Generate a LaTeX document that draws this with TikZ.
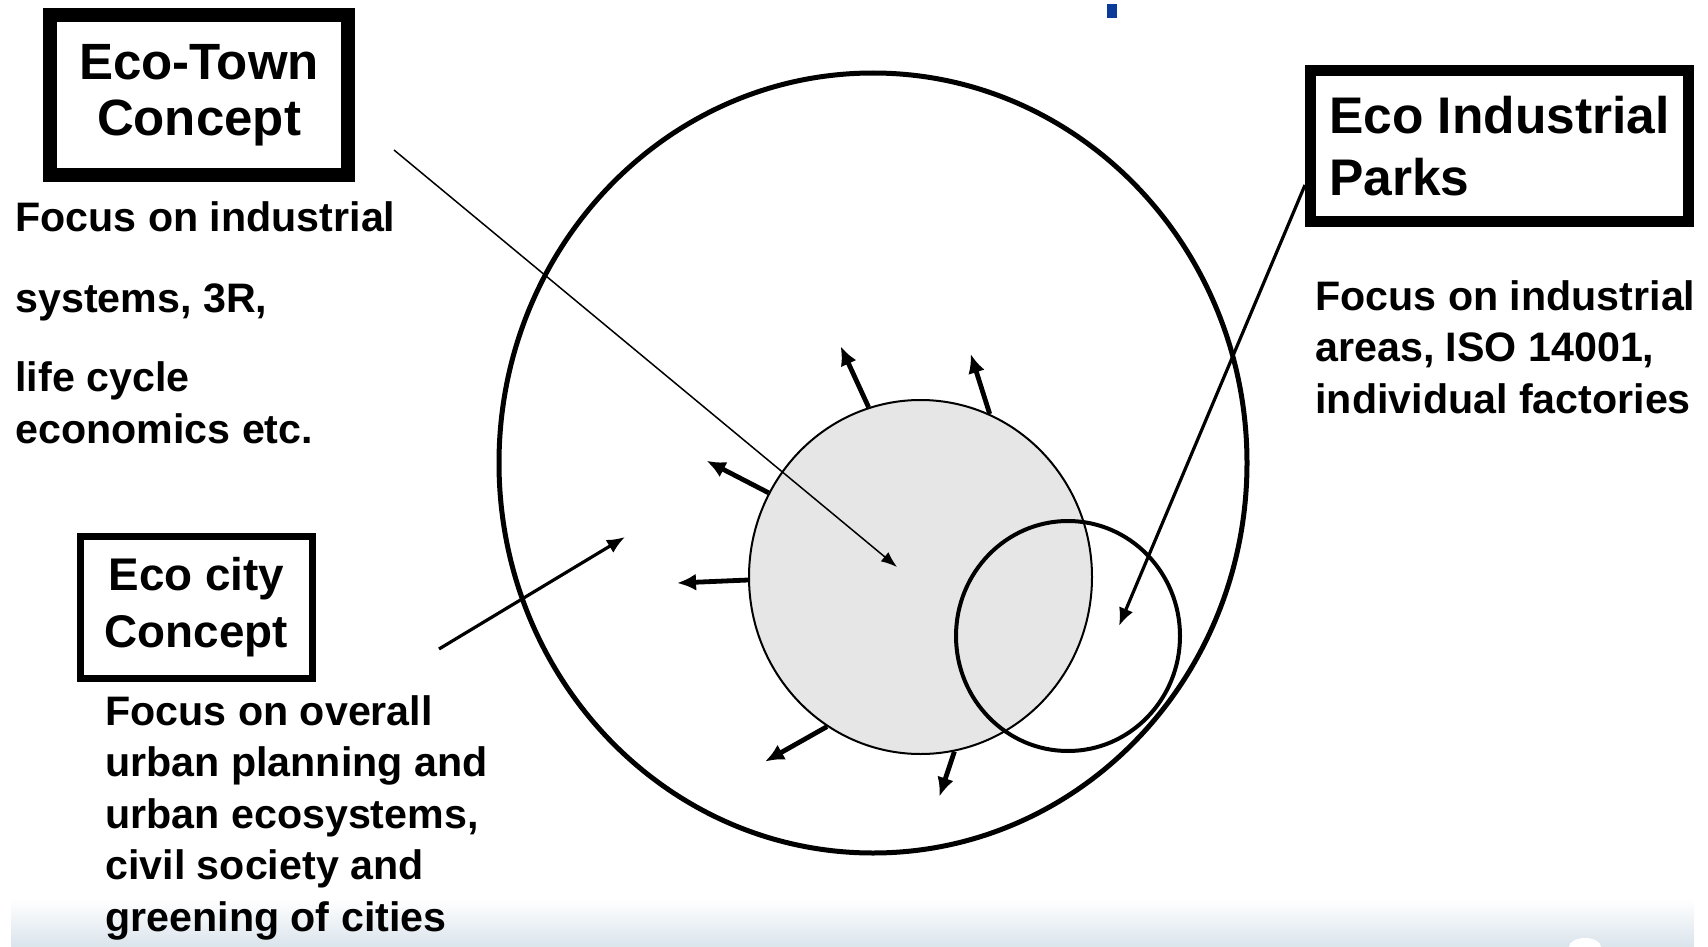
\documentclass[tikz,border=0pt]{standalone}
\usepackage{fontspec}
\setmainfont{Liberation Sans}
\usetikzlibrary{arrows.meta,positioning,shapes.geometric,calc}
\definecolor{ecInk}{HTML}{000000}
\definecolor{ecCore}{HTML}{E6E6E6}
\definecolor{ecMark}{HTML}{0A3A9A}
\definecolor{ecBand}{HTML}{DAE4EC}
\newcommand\ecTitle{\fontsize{25.5}{28}\selectfont\bfseries}
\newcommand\ecPark{\fontsize{25.75}{31}\selectfont\bfseries}
\newcommand\ecCity{\fontsize{22.9}{28.5}\selectfont\bfseries}
\newcommand\ecBody{\fontsize{20.6}{25.75}\selectfont\bfseries}
\tikzset{
  conbox/.style   ={draw=ecInk,fill=white,inner sep=0pt,align=center},
  txt/.style      ={inner sep=0pt,align=left,font=\ecBody,text=ecInk},
  ring/.style     ={ellipse,draw=ecInk,inner sep=0pt},
  spoke/.style    ={-{Latex[length=9.5pt,width=8.5pt]},ecInk,line width=2.4pt},
  pointer/.style  ={-{Latex[length=9pt,width=7.5pt]},ecInk,line width=1.6pt},
  thinptr/.style  ={-{Latex[length=8pt,width=6pt]},ecInk,line width=0.75pt},
}

\begin{document}
\begin{tikzpicture}[x=0.5pt,y=-0.5pt]
\useasboundingbox (0,0) rectangle (1708,947);
%% background band and mark
\fill[top color=white,bottom color=ecBand] (11,899) rectangle (1694,947);
\fill[white] (1585,947) ellipse (16 and 9);
\fill[ecMark] (1107,4) rectangle (1117,18);

%% circles
\node[ring,line width=2.5pt,minimum width=374pt,minimum height=390pt] (outer) at (873,463) {};
\node[ring,fill=ecCore,line width=1pt,minimum width=171.5pt,minimum height=177pt] (core) at (920.5,577) {};
\node[ring,line width=2pt,minimum width=112pt,minimum height=115pt] (park) at (1068,636) {};

%% concept boxes
\node[conbox,font=\ecTitle,line width=7pt,minimum width=149pt,minimum height=80pt] (town) at (199,95) {Eco-Town\\Concept};
\node[conbox,font=\ecPark,align=left,line width=5.5pt,minimum width=189pt,minimum height=75.5pt] (eip) at (1499.5,146) {Eco Industrial\\Parks};
\node[conbox,font=\ecCity,line width=3.5pt,minimum width=116pt,minimum height=71pt] (city) at (196.5,607.5) {Eco city\\Concept};

%% descriptions (base = last line)
\node[txt,anchor=base west] (towntxt) at (15,443) {Focus on industrial\\[14.5pt]systems, 3R,\\[14pt]life cycle\\economics etc.};
\node[txt,anchor=base west] (eiptxt) at (1315,413) {Focus on industrial\\areas, ISO 14001,\\individual factories};
\node[txt,anchor=base west] (citytxt) at (105,931) {Focus on overall\\urban planning and\\urban ecosystems,\\civil society and\\greening of cities};

%% pointers
\coordinate (towntail) at (394,150);
\coordinate (towntip) at (897,567);
\coordinate (eiptip) at (1119,626);
\coordinate (citytail) at (439,649);
\coordinate (citytip) at (625,537);
\draw[thinptr] (towntail) -- (towntip);
\draw[pointer] ([yshift=-19.5pt]eip.west) -- (eiptip);
\draw[pointer] (citytail) -- (citytip);

%% spreading out from the core
\foreach \a/\dx/\dy in {107.2/-28/-61, 67.9/-19/-60, 151/-62/-32,
                        181.6/-71/3, 238.9/-62/35, 281/-15/45}
  \draw[spoke] (core.\a) -- ++(\dx,\dy);
\end{tikzpicture}
\end{document}
